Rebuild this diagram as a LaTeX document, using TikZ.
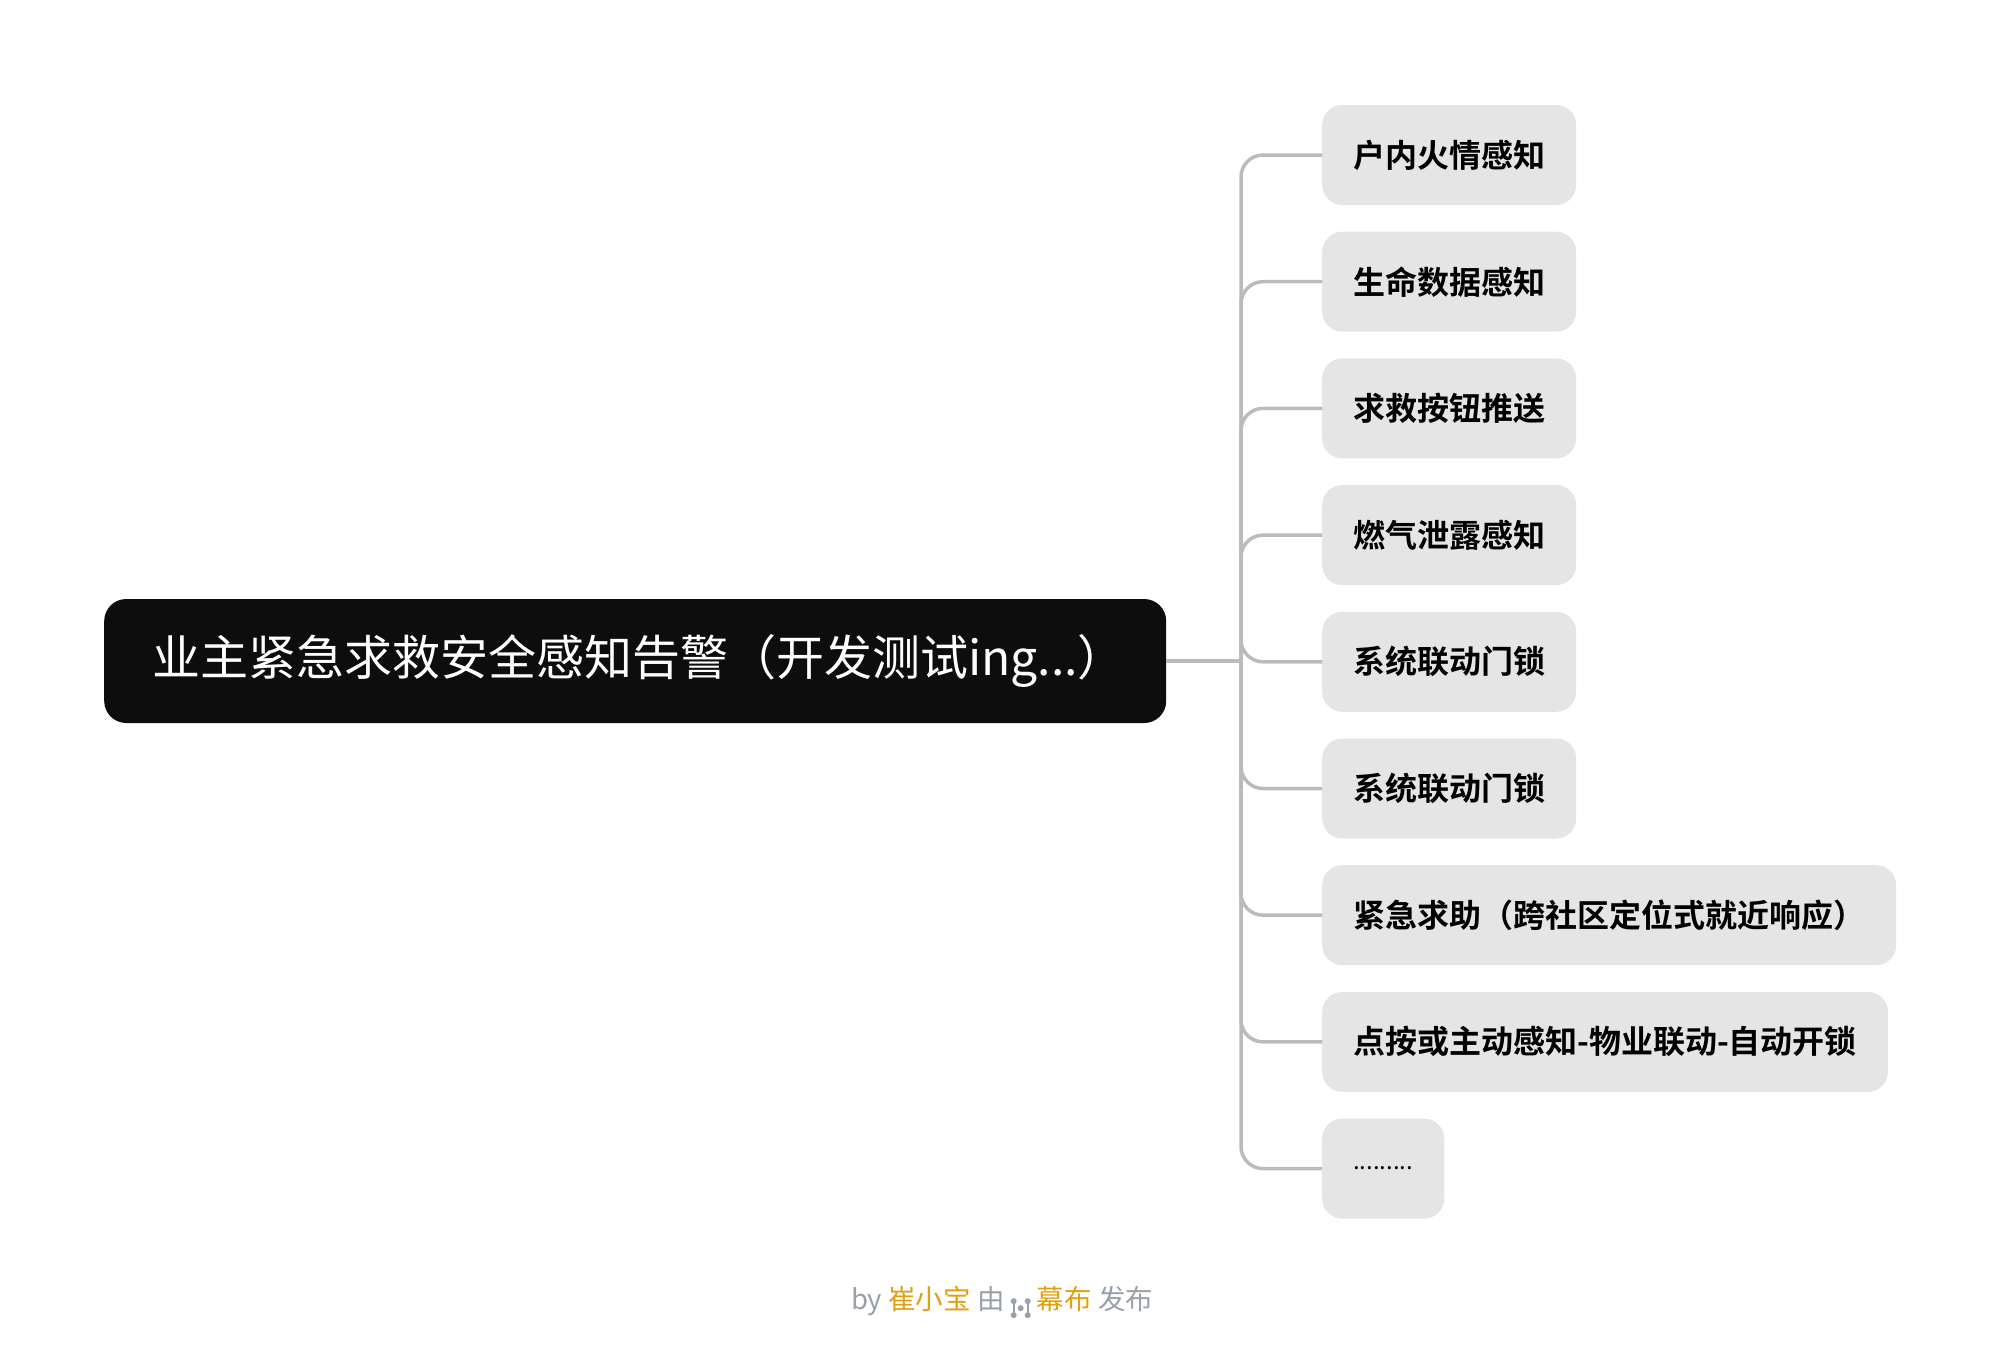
\documentclass[tikz,border=0pt]{standalone}
\usepackage{fontspec}
\setmainfont{Noto Sans CJK SC}
\newfontfamily\cjkb{Noto Sans CJK SC Bold}
\definecolor{boxg}{HTML}{E5E5E5}
\definecolor{lineg}{HTML}{BBBBBB}
\definecolor{ftg}{HTML}{9AA0A8}
\definecolor{fto}{HTML}{E0A010}
\newcommand\mydots{\normalfont\fontsize{24}{28}\selectfont .........}
\begin{document}
\begin{tikzpicture}[x=1pt,y=-1pt,
  child/.style={fill=boxg,rounded corners=20pt,minimum height=100pt,inner xsep=31pt,anchor=west,font=\cjkb\fontsize{32}{36}\selectfont,text=black},
  conn/.style={draw=lineg,line width=3.5pt,rounded corners=22pt}]
\useasboundingbox (0,0) rectangle (1996,1346);
\node[fill=black!95,rounded corners=22pt,minimum width=1062pt,minimum height=124pt,inner xsep=48pt,anchor=west,text=white,font=\fontsize{48}{52}\selectfont,text width=966pt,align=left] (root) at (104,661) {业主紧急求救安全感知告警（开发测试ing...）};
\coordinate (t) at (1241,661);
\foreach \i/\t in {1/户内火情感知,2/生命数据感知,3/求救按钮推送,4/燃气泄露感知,5/系统联动门锁,6/系统联动门锁,7/紧急求助（跨社区定位式就近响应）,8/点按或主动感知-物业联动-自动开锁,9/\mydots}{
  \node[child] (c\i) at (1322,{155+126.7*(\i-1)}) {\t};
  \draw[conn] (t) |- (c\i.west);
}
\draw[draw=lineg,line width=3.5pt] (root.east) -- (t);
\node[font=\fontsize{27.5}{30}\selectfont] (ft) at (1002,1302) {\textcolor{ftg}{by} \textcolor{fto}{崔小宝} \textcolor{ftg}{由} \tikz[x=1pt,y=1pt,baseline=-8pt]{\fill[ftg] (0,0) circle (3) (0,-14) circle (3) (7,-7) circle (3) (14,0) circle (3) (14,-14) circle (3); \draw[ftg,line width=2pt] (0,0)--(0,-14) (14,0)--(14,-14);} \textcolor{fto}{幕布} \textcolor{ftg}{发布}};
\end{tikzpicture}
\end{document}
